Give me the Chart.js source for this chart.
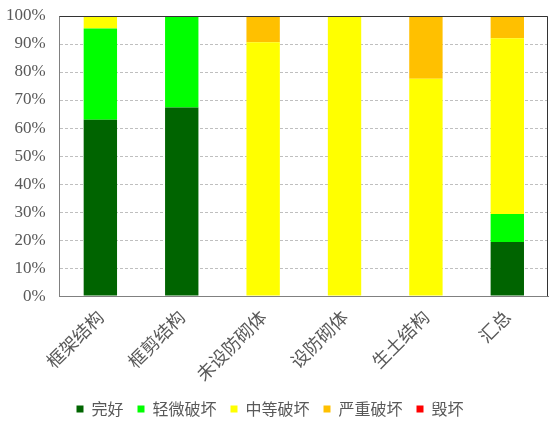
<!DOCTYPE html>
<html>
<head>
<meta charset="utf-8">
<script src="https://cdn.jsdelivr.net/npm/chart.js@4/dist/chart.umd.min.js"></script>
<style>
  body { margin: 0; background: #fff; }
  #wrap { width: 553px; height: 424px; position: relative; }
</style>
</head>
<body>
<div id="wrap"><canvas id="damageChart"></canvas></div>
<script>
// categories and damage shares (%)
const categories = ["框架结构", "框剪结构", "未设防砌体", "设防砌体", "生土结构", "汇总"];
const intact   = [63.0, 67.3, 0, 0, 0, 19.3];
const slight   = [32.5, 32.7, 0, 0, 0, 10.0];
const moderate = [4.5, 0, 90.6, 100, 77.6, 62.8];
const severe   = [0, 0, 9.4, 0, 22.4, 7.9];
const collapse = [0, 0, 0, 0, 0, 0];
const yTicks = [0, 10, 20, 30, 40, 50, 60, 70, 80, 90, 100];

const textGray = "#595959";

// top + right frame of the plot area
const frame = {
    id: "frame",
    afterDraw(chart) {
        const { ctx, chartArea: a } = chart;
        ctx.save();
        ctx.strokeStyle = "#333";
        ctx.lineWidth = 1;
        ctx.beginPath();
        ctx.moveTo(a.left, a.top + 0.5);
        ctx.lineTo(a.right - 0.5, a.top + 0.5);
        ctx.lineTo(a.right - 0.5, a.bottom);
        ctx.stroke();
        ctx.restore();
    }
};

new Chart(document.getElementById("damageChart"), {
    type: "bar",
    data: {
        labels: categories,
        datasets: [
            { label: "完好", data: intact, backgroundColor: "#006400" },
            { label: "轻微破坏", data: slight, backgroundColor: "#00ff00" },
            { label: "中等破坏", data: moderate, backgroundColor: "#ffff00" },
            { label: "严重破坏", data: severe, backgroundColor: "#ffc000" },
            { label: "毁坏", data: collapse, backgroundColor: "#ff0000" }
        ]
    },
    options: {
        responsive: true,
        maintainAspectRatio: false,
        animation: false,
        layout: { padding: { left: -8, right: 5, top: 16, bottom: -3 } },
        datasets: { bar: { categoryPercentage: 1, barPercentage: 0.41 } },
        plugins: {
            tooltip: { enabled: false },
            legend: {
                position: "bottom",
                labels: {
                    boxWidth: 7,
                    boxHeight: 7,
                    padding: 14,
                    color: textGray,
                    font: { family: "'Noto Sans CJK SC'", size: 16 }
                }
            }
        },
        scales: {
            x: {
                stacked: true,
                grid: { display: false },
                border: { color: "#808080", width: 1 },
                ticks: {
                    color: textGray,
                    maxRotation: 45,
                    minRotation: 45,
                    padding: 2,
                    font: { family: "'Noto Sans CJK SC'", size: 18 }
                }
            },
            y: {
                stacked: true,
                min: 0,
                max: 100,
                afterBuildTicks: axis => { axis.ticks = yTicks.map(v => ({ value: v })); },
                afterFit: axis => { axis.paddingTop = 0; axis.paddingBottom = 0; },
                grid: { color: "#bfbfbf", drawTicks: false, lineWidth: 1 },
                border: { color: "#808080", width: 1, dash: [3, 2] },
                ticks: {
                    color: textGray,
                    padding: 14,
                    font: { family: "'Liberation Serif'", size: 17 },
                    callback: v => v + "%"
                }
            }
        }
    },
    plugins: [frame]
});
</script>
</body>
</html>
